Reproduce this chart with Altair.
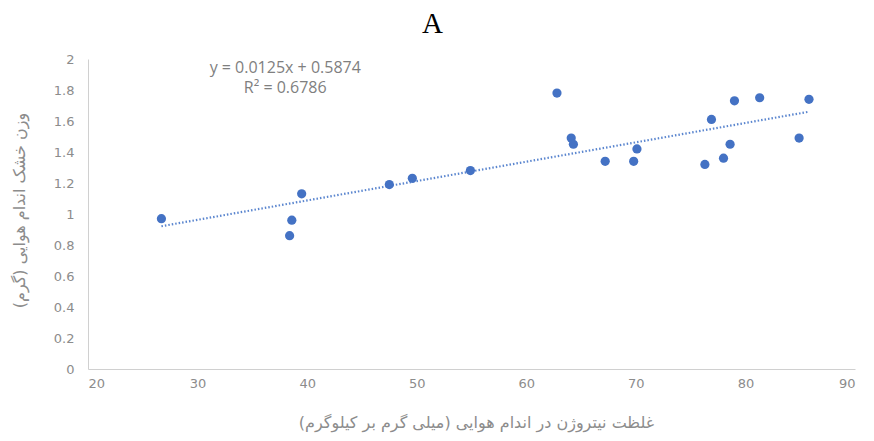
import altair as alt
import pandas as pd

# Nitrogen concentration in shoots (mg/kg) vs. shoot dry weight (g)
nitrogen = [26.7, 38.4, 38.6, 39.5, 47.5, 49.6, 54.9, 62.8, 64.1, 64.3, 67.2,
            69.8, 70.1, 76.3, 76.9, 78.0, 78.6, 79.0, 81.3, 84.9, 85.8]
dry_weight = [0.97, 0.86, 0.96, 1.13, 1.19, 1.23, 1.28, 1.78, 1.49, 1.45, 1.34,
              1.34, 1.42, 1.32, 1.61, 1.36, 1.45, 1.73, 1.75, 1.49, 1.74]

# Linear trend: y = 0.0125x + 0.5874, R² = 0.6786
slope = 0.0125
intercept = 0.5874
equation_lines = ["y = 0.0125x + 0.5874", "R² = 0.6786"]

x_title = "غلظت نیتروژن در اندام هوایی (میلی گرم بر کیلوگرم)"
y_title = "وزن خشک اندام هوایی (گرم)"

x_ticks = list(range(20, 91, 10))
y_ticks = [0, 0.2, 0.4, 0.6, 0.8, 1, 1.2, 1.4, 1.6, 1.8, 2]

points = pd.DataFrame({"n": nitrogen, "w": dry_weight})
x_lo, x_hi = min(nitrogen), max(nitrogen)
trend = pd.DataFrame({"n": [x_lo, x_hi],
                      "w": [slope * x_lo + intercept, slope * x_hi + intercept]})
eq = pd.DataFrame({"n": [38.0, 38.0], "w": [1.945, 1.815], "t": equation_lines})

blue = "#4472C4"
grey = "#8c8c8c"

x_enc = alt.X("n:Q", scale=alt.Scale(domain=[20, 90], nice=False),
              axis=alt.Axis(title=x_title, values=x_ticks, format="d",
                            grid=False, ticks=False, domainColor="#d0d0d0",
                            labelColor=grey, labelFontSize=13, labelPadding=8,
                            labelFont="DejaVu Sans", labelOverlap=False,
                            titleFont="DejaVu Sans", titleFontSize=16,
                            titleFontWeight="normal", titleColor=grey,
                            titleX=388, titleY=45))
y_enc = alt.Y("w:Q", scale=alt.Scale(domain=[0, 2], nice=False),
              axis=alt.Axis(title=y_title, values=y_ticks, format="~g",
                            grid=False, ticks=False, domainColor="#d0d0d0",
                            labelColor=grey, labelFontSize=13, labelPadding=14,
                            labelFont="DejaVu Sans", labelOverlap=False,
                            titleFont="DejaVu Sans", titleFontSize=16,
                            titleFontWeight="normal", titleColor=grey,
                            titleX=-61, titleY=151))

line = alt.Chart(trend).mark_line(
    color="#5b86cf", strokeWidth=2.2, strokeDash=[1.5, 2]
).encode(x=x_enc, y=y_enc)

dots = alt.Chart(points).mark_circle(size=85, color=blue, opacity=1).encode(
    x=x_enc, y=y_enc)

label = alt.Chart(eq).mark_text(
    color="#7f7f7f", fontSize=16, font="Open Sans", align="center"
).encode(x=x_enc, y=y_enc, text="t:N")

chart = alt.layer(line, dots, label).properties(
    width=767, height=310,
    background="white",
    padding={"left": 88, "top": 59, "right": 19, "bottom": 72},
    autosize=alt.AutoSizeParams(type="none"),
    title=alt.TitleParams("A", font="Liberation Serif", fontSize=29,
                          fontWeight="normal", color="#000000",
                          anchor="middle", dx=-39, offset=14),
).configure_view(stroke=None, strokeWidth=0)

chart.save("out.html", embed_options={"renderer": "svg", "actions": False})
